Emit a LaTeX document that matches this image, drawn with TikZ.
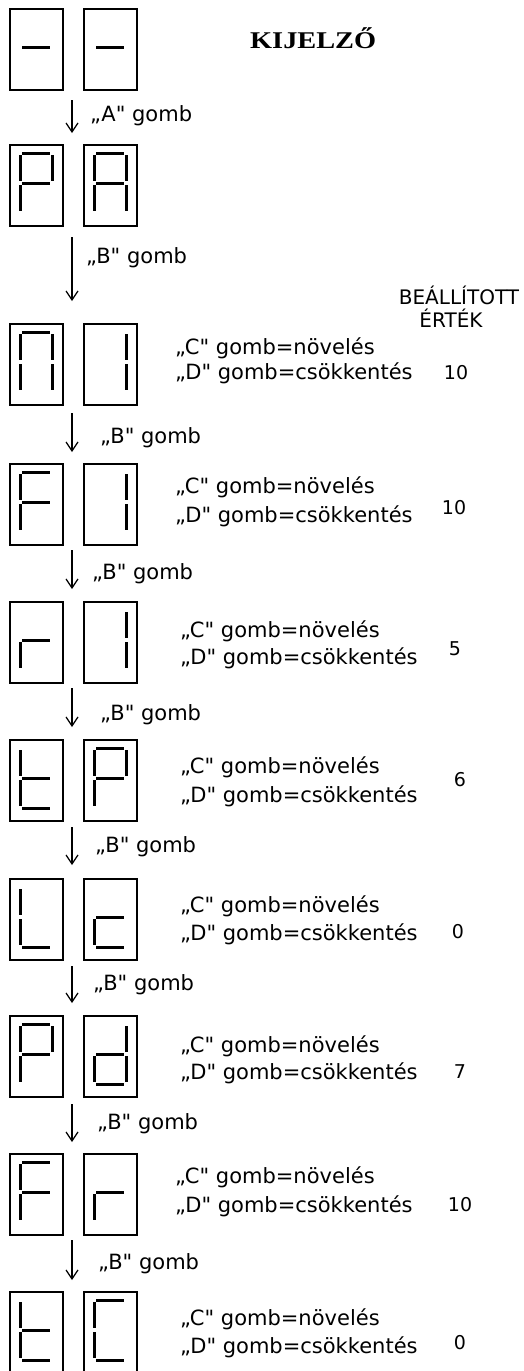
\documentclass[tikz,border=0pt]{standalone}
\usepackage{fontspec}
\newfontfamily\dv{DejaVu Sans}
\newfontfamily\titlefont[FakeStretch=1.18]{Liberation Serif}
\usetikzlibrary{arrows.meta}
\tikzset{
  digitbox/.style={draw, line width=1.6pt, minimum width=53pt, minimum height=81pt, inner sep=0pt, anchor=north west},
  seg/.style={line width=3pt},
  arr/.style={line width=1.2pt, -{Straight Barb[length=9pt,width=12pt,line width=1.2pt]}},
  txt/.style={inner sep=0pt, anchor=base west, font=\dv\fontsize{21pt}{25pt}\selectfont},
  num/.style={inner sep=0pt, anchor=base, font=\dv\fontsize{19pt}{23pt}\selectfont},
  hdr/.style={inner sep=0pt, anchor=base, font=\dv\fontsize{20pt}{24pt}\selectfont},
}
\newcommand\segdraw[1]{\ifcase#1\relax\or
  \draw[seg] (13,9)--(41,9);\or
  \draw[seg] (43,11)--(43,37);\or
  \draw[seg] (43,41)--(43,67);\or
  \draw[seg] (13,69)--(41,69);\or
  \draw[seg] (11,41)--(11,67);\or
  \draw[seg] (11,11)--(11,37);\or
  \draw[seg] (13,39)--(41,39);\fi}
\newcommand\sdigit[4]{%
  \node[digitbox] (#1) at (#2,#3) {};
  \begin{scope}[shift={(#2,#3)}]
    \foreach \s in {#4}{\segdraw{\s}}
  \end{scope}}
\begin{document}
\begin{tikzpicture}[x=1pt,y=-1pt]
\useasboundingbox (0,0) rectangle (523,1371);
% displays
\sdigit{r1a}{9}{8}{7}
\sdigit{r1b}{83}{8}{7}
\sdigit{r2a}{9}{144}{1,2,5,6,7}
\sdigit{r2b}{83}{144}{1,2,3,5,6,7}
\sdigit{r3a}{9}{323}{1,2,3,5,6}
\sdigit{r3b}{83}{323}{2,3}
\sdigit{r4a}{9}{463}{1,5,6,7}
\sdigit{r4b}{83}{463}{2,3}
\sdigit{r5a}{9}{601}{5,7}
\sdigit{r5b}{83}{601}{2,3}
\sdigit{r6a}{9}{739}{4,5,6,7}
\sdigit{r6b}{83}{739}{1,2,5,6,7}
\sdigit{r7a}{9}{878}{4,5,6}
\sdigit{r7b}{83}{878}{4,5,7}
\sdigit{r8a}{9}{1015}{1,2,5,6,7}
\sdigit{r8b}{83}{1015}{2,3,4,5,7}
\sdigit{r9a}{9}{1153}{1,5,6,7}
\sdigit{r9b}{83}{1153}{5,7}
\sdigit{r10a}{9}{1291}{4,5,6,7}
\sdigit{r10b}{83}{1291}{1,4,5,6}
% title and header
\node[inner sep=0pt, anchor=base west, font=\titlefont\bfseries\fontsize{24pt}{28pt}\selectfont] (title) at (250,48) {KIJELZŐ};
\node[hdr] (h1) at (459,304) {BEÁLLÍTOTT};
\node[hdr] (h2) at (451,327) {ÉRTÉK};
% arrows
\coordinate (a1s) at (72,100);  \coordinate (a1e) at (72,133);
\coordinate (a2s) at (72,237);  \coordinate (a2e) at (72,301);
\coordinate (a3s) at (72,413);  \coordinate (a3e) at (72,452);
\coordinate (a4s) at (72,550);  \coordinate (a4e) at (72,589);
\coordinate (a5s) at (72,688);  \coordinate (a5e) at (72,727);
\coordinate (a6s) at (72,827);  \coordinate (a6e) at (72,865);
\coordinate (a7s) at (72,966);  \coordinate (a7e) at (72,1003);
\coordinate (a8s) at (72,1104); \coordinate (a8e) at (72,1142);
\coordinate (a9s) at (72,1240); \coordinate (a9e) at (72,1280);
\foreach \i in {1,...,9}{\draw[arr] (a\i s) -- (a\i e);}
% arrow labels
\node[txt] (l1) at (90,121) {„A" gomb};
\node[txt] (l2) at (86,263) {„B" gomb};
\node[txt] (l3) at (100,443) {„B" gomb};
\node[txt] (l4) at (92,579) {„B" gomb};
\node[txt] (l5) at (100,720) {„B" gomb};
\node[txt] (l6) at (95,852) {„B" gomb};
\node[txt] (l7) at (93,990) {„B" gomb};
\node[txt] (l8) at (97,1129) {„B" gomb};
\node[txt] (l9) at (98,1269) {„B" gomb};
% C / D lines
\node[txt] (c3) at (175,354) {„C" gomb=növelés};
\node[txt] (d3) at (175,379) {„D" gomb=csökkentés};
\node[txt] (c4) at (175,493) {„C" gomb=növelés};
\node[txt] (d4) at (175,522) {„D" gomb=csökkentés};
\node[txt] (c5) at (180,637) {„C" gomb=növelés};
\node[txt] (d5) at (180,664) {„D" gomb=csökkentés};
\node[txt] (c6) at (180,773) {„C" gomb=növelés};
\node[txt] (d6) at (180,802) {„D" gomb=csökkentés};
\node[txt] (c7) at (180,912) {„C" gomb=növelés};
\node[txt] (d7) at (180,940) {„D" gomb=csökkentés};
\node[txt] (c8) at (180,1052) {„C" gomb=növelés};
\node[txt] (d8) at (180,1079) {„D" gomb=csökkentés};
\node[txt] (c9) at (175,1183) {„C" gomb=növelés};
\node[txt] (d9) at (175,1212) {„D" gomb=csökkentés};
\node[txt] (c10) at (180,1325) {„C" gomb=növelés};
\node[txt] (d10) at (180,1353) {„D" gomb=csökkentés};
% values
\node[num] (v3) at (456,379) {10};
\node[num] (v4) at (454,514) {10};
\node[num] (v5) at (455,655) {5};
\node[num] (v6) at (460,786) {6};
\node[num] (v7) at (458,938) {0};
\node[num] (v8) at (460,1078) {7};
\node[num] (v9) at (460,1211) {10};
\node[num] (v10) at (460,1349) {0};
\end{tikzpicture}
\end{document}
